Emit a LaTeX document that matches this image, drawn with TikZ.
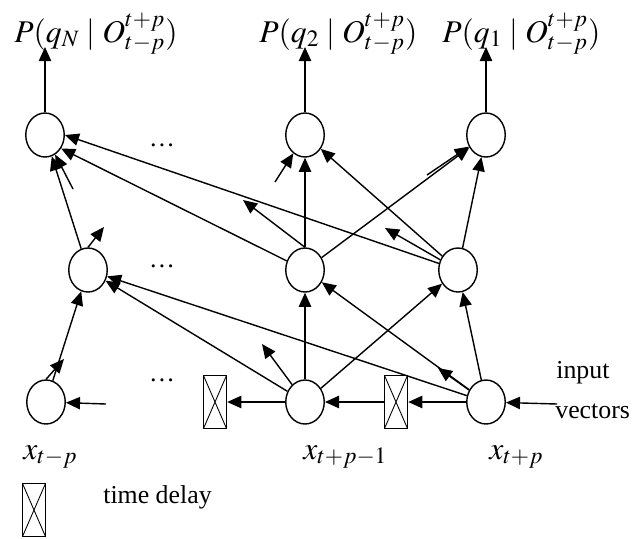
\documentclass[tikz,border=0pt]{standalone}
\usepackage{mathptmx}
\usepackage[no-math]{fontspec}
\setmainfont{Liberation Serif}
\usetikzlibrary{arrows.meta,shapes.geometric}

\begin{document}
\begin{tikzpicture}[x=0.02cm, y=-0.02cm,
  >={Triangle[length=8pt,width=7pt]},
  every node/.style={font=\fontsize{14.7}{17}\selectfont, inner sep=0pt},
  neuron/.style={draw, ellipse, line width=0.8pt, minimum width=0.77cm, minimum height=0.88cm},
  delaybox/.style={draw, rectangle, line width=0.8pt, minimum width=0.46cm, minimum height=1.06cm,
    path picture={\draw[line width=0.5pt] (path picture bounding box.north west) -- (path picture bounding box.south east)
      (path picture bounding box.north east) -- (path picture bounding box.south west);}},
  link/.style={->, line width=0.8pt},
  mathlabel/.style={font=\fontsize{18}{21}\selectfont}]
  \useasboundingbox (0,0) rectangle (632,538);

  % Output layer
  \node[neuron] (n1) at (45,135) {};
  \node[neuron] (n2) at (305,135) {};
  \node[neuron] (n3) at (486,135) {};

  % Hidden layer
  \node[neuron] (m1) at (88,270) {};
  \node[neuron] (m2) at (305,270) {};
  \node[neuron] (m3) at (458,270) {};

  % Input layer
  \node[neuron] (b1) at (46,402) {};
  \node[neuron] (b2) at (305,402) {};
  \node[neuron] (b3) at (486,402) {};

  % Delays
  \node[delaybox] (d1) at (215,402) {};
  \node[delaybox] (d2) at (396,402) {};
  \node[delaybox] (dkey) at (34,510) {};
  \node[anchor=base west] (dkeytext) at (103,503) {time delay};

  % Output labels
  \node[mathlabel, anchor=base west] (lqN) at (14,42) {$P(q_N \mid O_{t-p}^{t+p})$};
  \node[mathlabel, anchor=base west] (lq2) at (259,42) {$P(q_2 \mid O_{t-p}^{t+p})$};
  \node[mathlabel, anchor=base west] (lq1) at (442,42) {$P(q_1 \mid O_{t-p}^{t+p})$};
  \coordinate (pN) at (45,47);
  \coordinate (p2) at (305,47);
  \coordinate (p1) at (486,47);

  % Input labels
  \node[mathlabel, anchor=base west] (lx1) at (23,459) {$x_{t-p}$};
  \node[mathlabel, anchor=base west] (lx2) at (303,459) {$x_{t+p-1}$};
  \node[mathlabel, anchor=base west] (lx3) at (489,459) {$x_{t+p}$};
  \node[anchor=base west] (linput) at (556,378) {input};
  \node[anchor=base west] (lvectors) at (555,418) {vectors};

  % Dots
  \node[anchor=base] (dots1) at (162,146) {\dots};
  \node[anchor=base] (dots2) at (162,267) {\dots};
  \node[anchor=base] (dots3) at (162,381) {\dots};

  % Stub ends
  \coordinate (sa) at (73,189);
  \coordinate (sb) at (104,227);
  \coordinate (sc) at (275,182);
  \coordinate (sd) at (243,200);
  \coordinate (se) at (427,175);
  \coordinate (sf) at (385,228);
  \coordinate (sg) at (64,359);
  \coordinate (sh) at (262,344);
  \coordinate (si) at (438,368);
  \coordinate (inp) at (557,404);
  \coordinate (prev) at (106,404);

  % Outputs
  \draw[link] (n1) -- (pN);
  \draw[link] (n2) -- (p2);
  \draw[link] (n3) -- (p1);

  % Connections
  \draw[link] (m3) -- (n1.east);
  \draw[link] (m2) -- (n1.-40);
  \foreach \a/\b in {m1/n1, m2/n2, m3/n2, m2/n3, m3/n3, b1/m1, b2/m1, b3/m1, b2/m2, b3/m2, b2/m3, b3/m3}
    \draw[link] (\a) -- (\b);

  % Partial connections
  \draw[link] (sa) -- (n1);
  \draw[link] (m1.north) -- (sb);
  \draw[link] (sc) -- (n2);
  \draw[link] (m2.north) -- (sd);
  \draw[link] (se) -- (n3);
  \draw[link] (m3) -- (sf);
  \draw[link] (b1.north) -- (sg);
  \draw[link] (b2) -- (sh);
  \draw[link] (b3) -- (si);

  % Delay chain
  \draw[link] (inp) -- (b3);
  \draw[link] (b3) -- (d2);
  \draw[link] (d2) -- (b2);
  \draw[link] (b2) -- (d1);
  \draw[link] (prev) -- (b1);
\end{tikzpicture}
\end{document}
